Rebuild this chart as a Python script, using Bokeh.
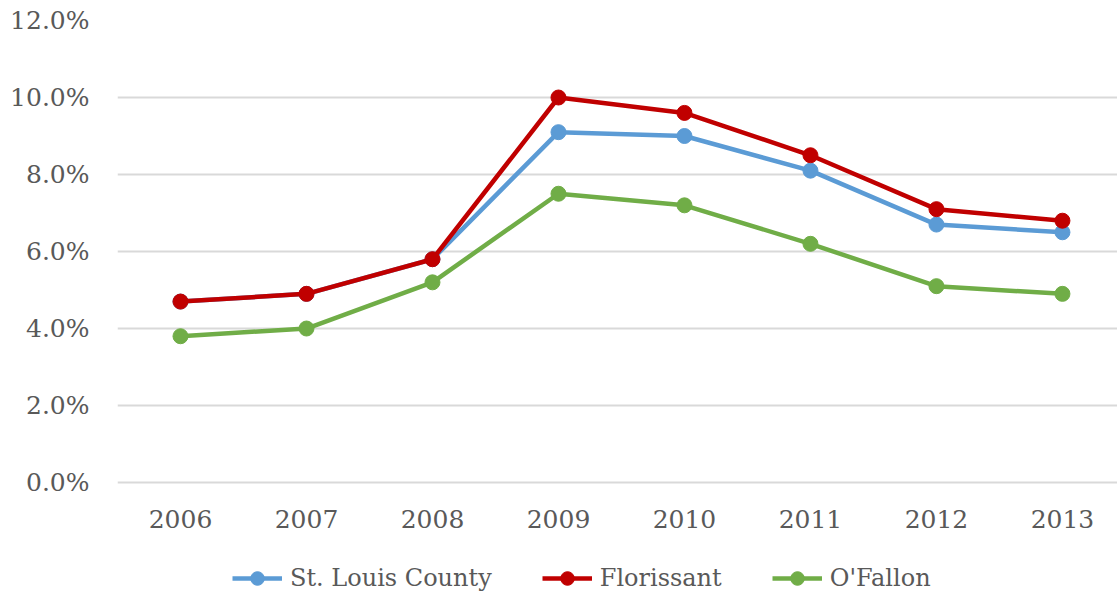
from bokeh.plotting import figure
from bokeh.models import Range1d, FixedTicker, Legend, LegendItem, ColumnDataSource
from bokeh.core.properties import value
from bokeh.embed import file_html
from bokeh.resources import INLINE

years = ["2006", "2007", "2008", "2009", "2010", "2011", "2012", "2013"]
st_louis = [4.7, 4.9, 5.8, 9.1, 9.0, 8.1, 6.7, 6.5]
florissant = [4.7, 4.9, 5.8, 10.0, 9.6, 8.5, 7.1, 6.8]
ofallon = [3.8, 4.0, 5.2, 7.5, 7.2, 6.2, 5.1, 4.9]
y_ticks = [0, 2, 4, 6, 8, 10, 12]

xs = list(range(len(years)))
FONT = "DejaVu Serif"
GREY = "#595959"

# frame spans the full height below the top border; area under 0% holds the year labels and legend
p = figure(width=1117, height=596, output_backend="svg", toolbar_location=None,
           x_range=Range1d(-0.5, 7.437), y_range=Range1d(-2.96, 12),
           min_border_left=117, min_border_right=0, min_border_top=20, min_border_bottom=0)
p.outline_line_color = None
p.xgrid.grid_line_color = None
p.ygrid.grid_line_color = "#D9D9D9"
p.ygrid.grid_line_width = 2
p.xaxis.visible = False

p.yaxis.ticker = FixedTicker(ticks=y_ticks)
p.yaxis.major_label_overrides = {v: f"{v:.1f}%" for v in y_ticks}
p.yaxis.axis_line_color = None
p.yaxis.major_tick_line_color = None
p.yaxis.minor_tick_line_color = None
p.yaxis.major_tick_out = 0
p.yaxis.major_tick_in = 0
p.yaxis.major_label_text_font = FONT
p.yaxis.major_label_text_font_size = "25px"
p.yaxis.major_label_text_color = GREY
p.yaxis.major_label_standoff = 28

# category labels under the 0% line
lab = ColumnDataSource(dict(x=xs, y=[-0.935] * len(xs), t=years))
p.text(x="x", y="y", text="t", source=lab, text_align="center", text_baseline="middle",
       text_font=value(FONT), text_font_size="25px", text_color=GREY)

items = []
for name, vals, col in [("St. Louis County", st_louis, "#5B9BD5"),
                        ("Florissant", florissant, "#C00000"),
                        ("O'Fallon", ofallon, "#70AD47")]:
    l = p.line(xs, vals, line_color=col, line_width=4.5)
    c = p.scatter(xs, vals, size=15, fill_color=col, line_color=col)
    items.append(LegendItem(label=name, renderers=[l, c]))

legend = Legend(items=items, orientation="horizontal", location=(115, 1),
                label_text_font=FONT, label_text_font_size="24px",
                label_text_color=GREY, glyph_width=50, glyph_height=34, label_standoff=8,
                spacing=50, border_line_color=None, background_fill_alpha=0,
                margin=0, padding=0)
p.add_layout(legend, "center")

open("out.html", "w").write(file_html(p, INLINE))
